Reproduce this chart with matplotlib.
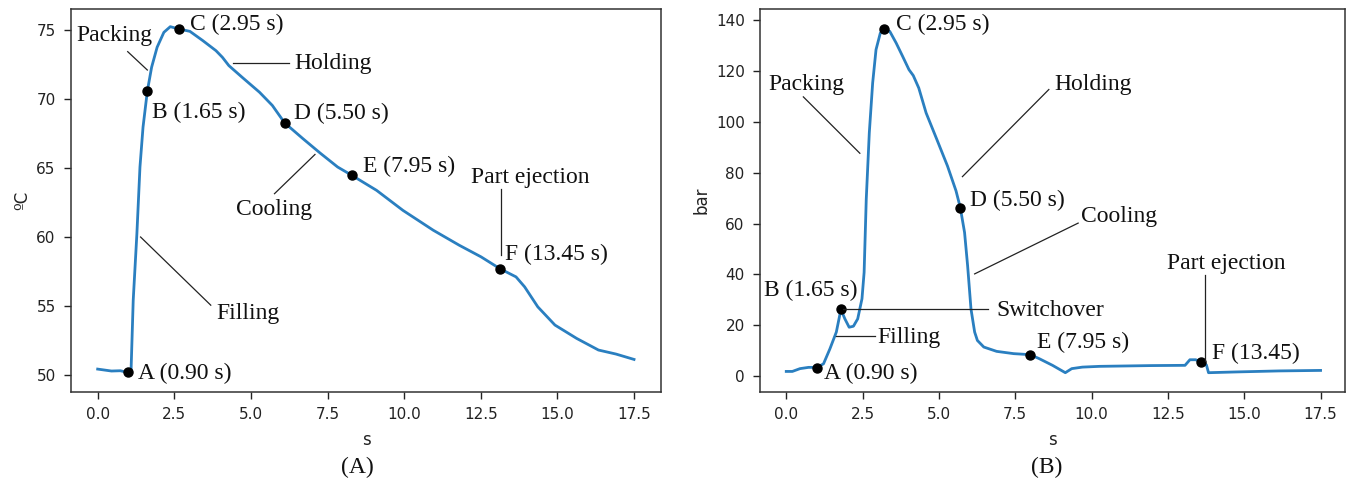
import matplotlib
matplotlib.use("Agg")
import matplotlib.pyplot as plt

# temperature curve (A)
t_temp = [0.0, 0.45, 0.74, 0.98, 1.09, 1.16, 1.28, 1.38, 1.48, 1.62, 1.76, 1.94, 2.16, 2.37,
          2.65, 3.01, 3.43, 3.86, 4.07, 4.28, 4.71, 5.28, 5.7, 6.1, 6.7, 7.26, 7.83, 8.3,
          9.1, 9.96, 10.95, 11.8, 12.51, 13.12, 13.65, 13.93, 14.36, 14.92, 15.63, 16.34,
          16.91, 17.5]
temp = [50.43, 50.29, 50.31, 50.19, 50.36, 55.42, 60.25, 65.07, 67.96, 70.56, 72.3, 73.75,
        74.83, 75.24, 75.07, 74.9, 74.23, 73.5, 73.02, 72.42, 71.58, 70.49, 69.53, 68.27,
        67.12, 66.08, 65.07, 64.46, 63.38, 61.93, 60.49, 59.4, 58.56, 57.71, 57.11, 56.39,
        54.94, 53.62, 52.65, 51.81, 51.52, 51.13]

# pressure curve (B)
t_pres = [0.0, 0.2, 0.45, 0.73, 1.01, 1.22, 1.43, 1.64, 1.79, 1.92, 2.06, 2.2, 2.34, 2.48,
          2.55, 2.62, 2.72, 2.83, 2.94, 3.08, 3.19, 3.39, 3.6, 3.81, 4.02, 4.16, 4.34, 4.58,
          4.93, 5.28, 5.56, 5.7, 5.84, 5.94, 6.05, 6.17, 6.26, 6.47, 6.89, 7.45, 7.99, 8.29,
          8.72, 9.14, 9.35, 9.7, 10.26, 11.94, 13.06, 13.22, 13.41, 13.59, 13.76, 13.83,
          14.74, 16.14, 17.5]
pres = [1.8, 1.8, 2.9, 3.4, 3.4, 4.8, 10.7, 17.3, 26.2, 22.5, 19.2, 19.6, 22.5, 30.4, 40.8,
        69.6, 95.8, 115.4, 128.5, 135.0, 136.6, 135.7, 131.1, 125.9, 120.6, 118.3, 113.4,
        103.6, 93.2, 82.7, 72.9, 66.3, 56.5, 43.4, 26.4, 17.3, 14.0, 11.4, 9.7, 8.8, 8.4,
        6.8, 4.2, 1.3, 2.9, 3.5, 3.8, 4.1, 4.2, 6.4, 6.4, 5.5, 4.4, 1.3, 1.6, 2.0, 2.2]

# marked points A..F
mark_t_temp = [0.98, 1.62, 2.65, 6.1, 8.3, 13.12]
mark_temp = [50.19, 70.56, 75.07, 68.27, 64.46, 57.71]
mark_t_pres = [1.01, 1.79, 3.19, 5.7, 7.99, 13.59]
mark_pres = [3.1, 26.2, 136.6, 66.3, 8.4, 5.5]

labels_temp = ["A (0.90 s)", "B (1.65 s)", "C (2.95 s)", "D (5.50 s)", "E (7.95 s)", "F (13.45 s)"]
labels_pres = ["A (0.90 s)", "B (1.65 s)", "C (2.95 s)", "D (5.50 s)", "E (7.95 s)", "F (13.45)"]

serif = dict(family="Liberation Serif", fontsize=17, color="#111111")
tick_col = "#222222"

fig = plt.figure(figsize=(13.53, 4.87), dpi=100)
ax1 = fig.add_axes([71 / 1353, 95 / 487, 590 / 1353, 383 / 487])
ax2 = fig.add_axes([760 / 1353, 95 / 487, 585 / 1353, 383 / 487])

for ax in (ax1, ax2):
    for sp in ax.spines.values():
        sp.set_color("#333333")
        sp.set_linewidth(1.1)
    ax.tick_params(labelsize=11, length=5, width=1.0, pad=6, colors=tick_col)
    ax.set_xticks([0, 2.5, 5, 7.5, 10, 12.5, 15, 17.5])
    ax.set_xlabel("s", fontsize=12, color=tick_col, labelpad=6)


def pointer(ax, p0, p1):
    ax.plot([p0[0], p1[0]], [p0[1], p1[1]], color="#222222", lw=0.9)


# ---- (A) temperature
ax1.plot(t_temp, temp, color="#2a7fc0", lw=2.0)
ax1.plot(mark_t_temp, mark_temp, "o", color="black", ms=6.5)
ax1.set_xlim(-0.87, 18.38)
ax1.set_ylim(48.77, 76.52)
ax1.set_yticks([50, 55, 60, 65, 70, 75])
ax1.set_ylabel("ºC", fontsize=12, color=tick_col)

pos_temp = [(1.3, 50.1), (1.76, 69.05), (3.01, 75.4), (6.41, 68.93), (8.65, 65.14), (13.3, 58.77)]
for lab, (x, y) in zip(labels_temp, pos_temp):
    ax1.text(x, y, lab, ha="left", va="center", **serif)

ax1.text(-0.68, 74.62, "Packing", ha="left", va="center", **serif)
pointer(ax1, (0.98, 73.43), (1.62, 72.1))
ax1.text(6.41, 72.59, "Holding", ha="left", va="center", **serif)
pointer(ax1, (4.4, 72.59), (6.24, 72.59))
ax1.text(4.5, 61.98, "Cooling", ha="left", va="center", **serif)
pointer(ax1, (5.77, 63.14), (7.09, 65.98))
ax1.text(12.18, 64.28, "Part ejection", ha="left", va="center", **serif)
pointer(ax1, (13.16, 63.48), (13.16, 58.7))
ax1.text(3.86, 54.46, "Filling", ha="left", va="center", **serif)
pointer(ax1, (1.4, 60.0), (3.69, 55.06))

# ---- (B) pressure
ax2.plot(t_pres, pres, color="#2a7fc0", lw=2.0)
ax2.plot(mark_t_pres, mark_pres, "o", color="black", ms=6.5)
ax2.set_xlim(-0.86, 18.3)
ax2.set_ylim(-6.3, 144.5)
ax2.set_yticks([0, 20, 40, 60, 80, 100, 120, 140])
ax2.set_ylabel("bar", fontsize=12, color=tick_col)

pos_pres = [(1.22, 0.9), (-0.74, 33.6), (3.6, 138.3), (6.02, 69.0), (8.22, 13.3), (13.94, 8.8)]
for lab, (x, y) in zip(labels_pres, pos_pres):
    ax2.text(x, y, lab, ha="left", va="center", **serif)

ax2.text(-0.6, 114.7, "Packing", ha="left", va="center", **serif)
pointer(ax2, (0.56, 109.9), (2.41, 87.7))
ax2.text(8.79, 114.7, "Holding", ha="left", va="center", **serif)
pointer(ax2, (8.6, 112.8), (5.77, 78.5))
ax2.text(9.65, 62.8, "Cooling", ha="left", va="center", **serif)
pointer(ax2, (9.56, 60.2), (6.17, 40.2))
ax2.text(12.46, 44.4, "Part ejection", ha="left", va="center", **serif)
pointer(ax2, (13.72, 39.8), (13.72, 6.1))
ax2.text(6.87, 25.8, "Switchover", ha="left", va="center", **serif)
pointer(ax2, (1.85, 26.4), (6.61, 26.4))
ax2.text(2.97, 15.3, "Filling", ha="left", va="center", **serif)
pointer(ax2, (1.64, 15.6), (2.9, 15.6))

fig.text(357 / 1353, 1 - 467 / 487, "(A)", ha="center", va="center",
         family="Liberation Serif", fontsize=17, color="#111111")
fig.text(1047 / 1353, 1 - 467 / 487, "(B)", ha="center", va="center",
         family="Liberation Serif", fontsize=17, color="#111111")

fig.savefig("out.png", dpi=100)
